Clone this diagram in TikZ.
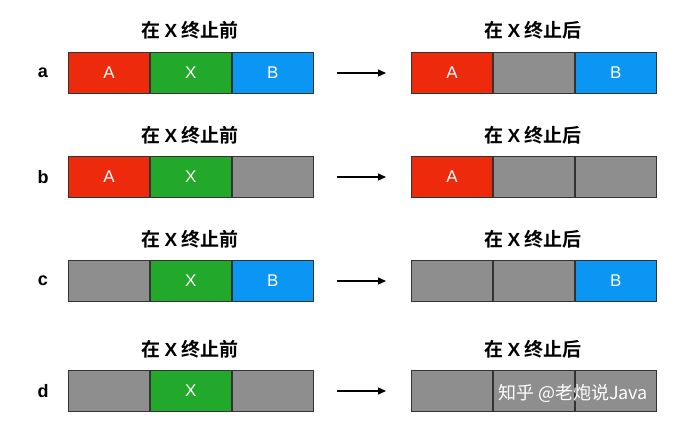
\documentclass[tikz,border=0pt]{standalone}
\usepackage{fontspec}
\setmainfont{Liberation Sans}
\newfontfamily\cjkb{Noto Sans CJK SC}[BoldFont={* Bold}]
\newfontfamily\cjk{Noto Sans CJK SC}
\usetikzlibrary{arrows.meta}
\definecolor{cred}{HTML}{EE2A0C}
\definecolor{cgreen}{HTML}{22A82A}
\definecolor{cblue}{HTML}{0A96F2}
\definecolor{cgray}{HTML}{8E8E8E}
\definecolor{cborder}{HTML}{333333}
\newcommand{\bx}{{\rmfamily\bfseries X}}
\tikzset{
  cell/.style={draw=cborder, line width=0.9pt, minimum width=81pt, minimum height=41pt, inner sep=0pt, text=white, font=\fontsize{17}{17}\selectfont, anchor=west},
  title/.style={font=\cjkb\bfseries\fontsize{19}{19}\selectfont, text=black},
  rowlab/.style={font=\bfseries\fontsize{18}{18}\selectfont, text=black},
  arr/.style={-{Triangle[length=8pt,width=7pt]}, line width=1.1pt, black}
}
\begin{document}
\begin{tikzpicture}[x=1pt,y=-1pt]
\useasboundingbox[fill=white] (0,0) rectangle (686,426);
\foreach \r/\yc/\ty/\la/\lb/\lc/\ra/\rb/\rc/\ta/\tb/\tc/\sa/\sb/\sc in {
  a/73/30/cred/cgreen/cblue/cred/cgray/cblue/A/X/B/A//B,
  b/177/135/cred/cgreen/cgray/cred/cgray/cgray/A/X//A//,
  c/281/239/cgray/cgreen/cblue/cgray/cgray/cblue//X/B///B,
  d/391/349/cgray/cgreen/cgray/cgray/cgray/cgray//X/////}{
  \node[rowlab] (lab\r) at (43,\yc) {\r};
  \node[title] (tl\r) at (190,\ty) {在 \bx{} 终止前};
  \node[title] (tr\r) at (533,\ty) {在 \bx{} 终止后};
  \node[cell, fill=\la] (L1\r) at (68,\yc) {\ta};
  \node[cell, fill=\lb] (L2\r) at (L1\r.east) {\tb};
  \node[cell, fill=\lc] (L3\r) at (L2\r.east) {\tc};
  \node[cell, fill=\ra] (R1\r) at (411,\yc) {\sa};
  \node[cell, fill=\rb] (R2\r) at (R1\r.east) {\sb};
  \node[cell, fill=\rc] (R3\r) at (R2\r.east) {\sc};
  \coordinate (as\r) at (337,\yc);
  \coordinate (ae\r) at (386,\yc);
  \draw[arr] (as\r) -- (ae\r);
}
\node[font=\cjk\fontsize{18}{18}\selectfont, text=black!45, anchor=west] (wms) at (496,394.5) {知乎 @老炮说Java};
\node[font=\cjk\fontsize{18}{18}\selectfont, text=white, anchor=west] (wm) at (494.5,393) {知乎 @老炮说Java};
\end{tikzpicture}
\end{document}
